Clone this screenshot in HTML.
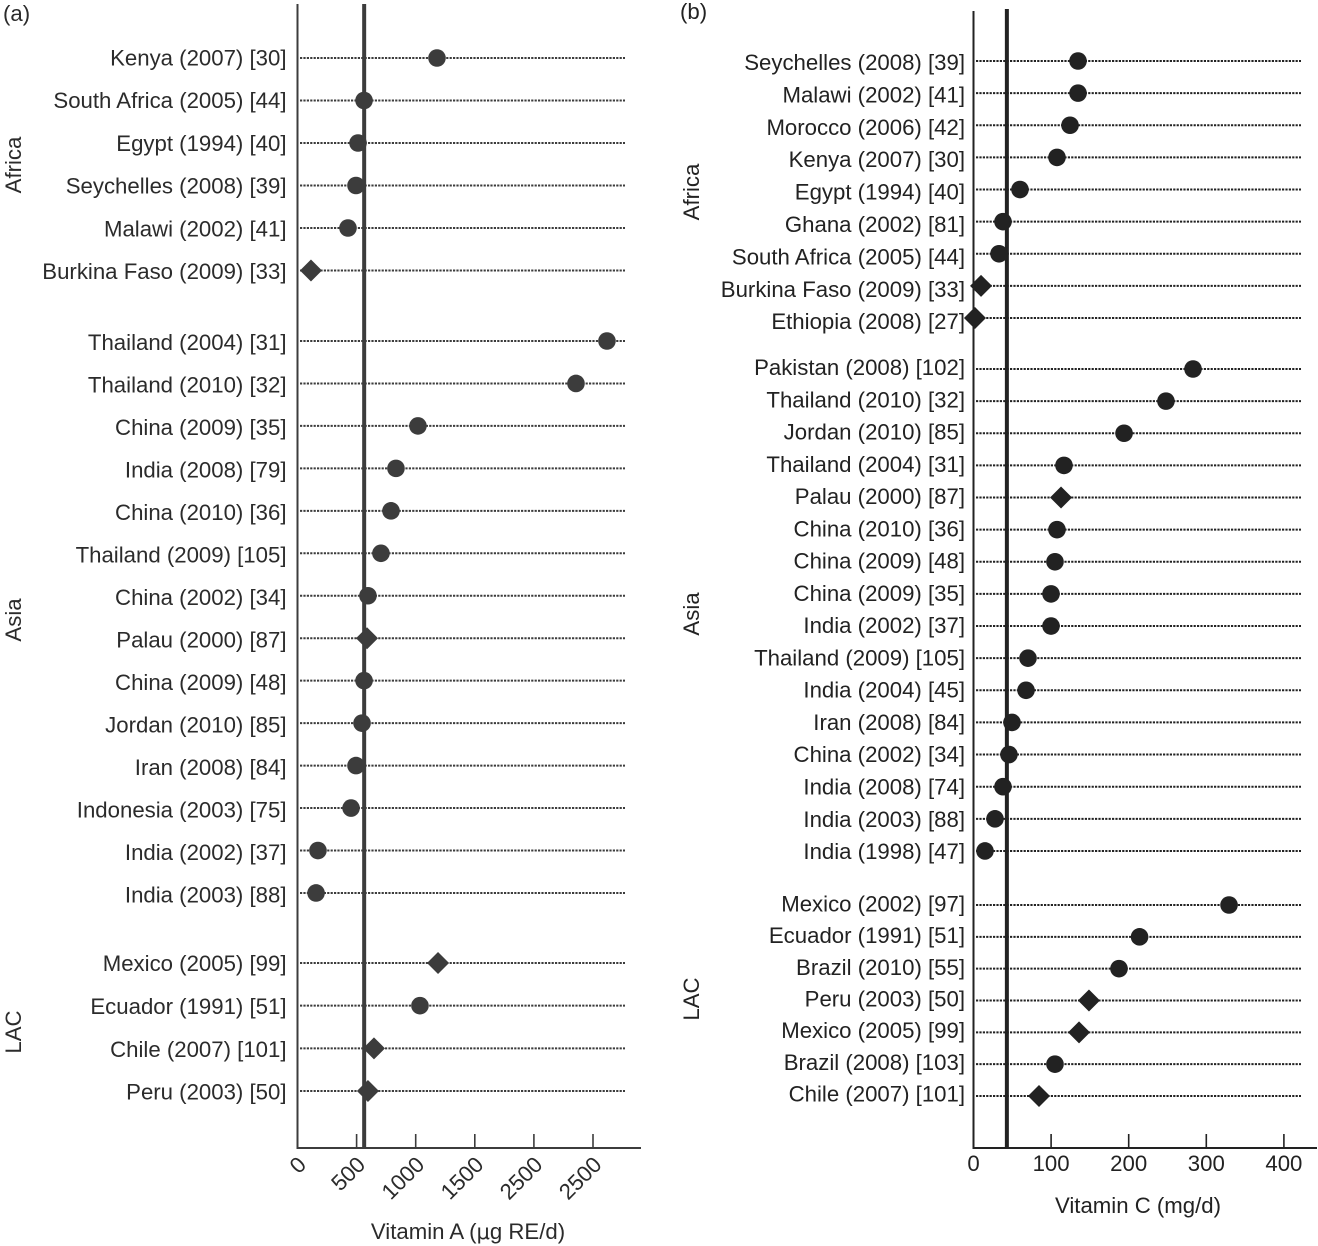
<!DOCTYPE html>
<html lang="en">
<head>
<meta charset="utf-8">
<title>Vitamin A and Vitamin C intake dot plots</title>
<style>
html,body{margin:0;padding:0;background:#fff;width:1318px;height:1246px;overflow:hidden}
svg{display:block}
text{font-family:"Liberation Sans",sans-serif;font-size:22.2px}
</style>
</head>
<body>
<svg id="figure" xmlns="http://www.w3.org/2000/svg" width="1318" height="1246" viewBox="0 0 1318 1246">
  <rect x="0" y="0" width="1318" height="1246" fill="#fff"/>
  <text x="3" y="21" fill="#2b2b2b">(a)</text>
  <text x="680" y="19" fill="#222">(b)</text>
  <text x="468" y="1239" text-anchor="middle" fill="#2b2b2b">Vitamin A (<tspan font-family="'DejaVu Sans',sans-serif" font-size="21">μ</tspan>g RE/d)</text>
  <text x="1138" y="1213" text-anchor="middle" fill="#222">Vitamin C (mg/d)</text>
</svg>
<script>
const groupNames = ['Africa', 'Asia', 'LAC'];

const panelACategories = [
  ['Kenya (2007) [30]', 'South Africa (2005) [44]', 'Egypt (1994) [40]', 'Seychelles (2008) [39]', 'Malawi (2002) [41]', 'Burkina Faso (2009) [33]'],
  ['Thailand (2004) [31]', 'Thailand (2010) [32]', 'China (2009) [35]', 'India (2008) [79]', 'China (2010) [36]', 'Thailand (2009) [105]', 'China (2002) [34]', 'Palau (2000) [87]', 'China (2009) [48]', 'Jordan (2010) [85]', 'Iran (2008) [84]', 'Indonesia (2003) [75]', 'India (2002) [37]', 'India (2003) [88]'],
  ['Mexico (2005) [99]', 'Ecuador (1991) [51]', 'Chile (2007) [101]', 'Peru (2003) [50]']
];
const panelAValues = [
  [1180, 563, 512, 495, 427, 114],
  [2618, 2356, 1019, 833, 791, 706, 596, 588, 563, 546, 495, 453, 173, 157],
  [1189, 1036, 647, 596]
];
const panelAMarkers = [
  ['o', 'o', 'o', 'o', 'o', 'd'],
  ['o', 'o', 'o', 'o', 'o', 'o', 'o', 'd', 'o', 'o', 'o', 'o', 'o', 'o'],
  ['d', 'o', 'd', 'd']
];
const panelATicks = [0, 500, 1000, 1500, 2000, 2500];
const panelATickLabels = ['0', '500', '1000', '1500', '2500', '2500'];
const panelAReference = 564;

const panelBCategories = [
  ['Seychelles (2008) [39]', 'Malawi (2002) [41]', 'Morocco (2006) [42]', 'Kenya (2007) [30]', 'Egypt (1994) [40]', 'Ghana (2002) [81]', 'South Africa (2005) [44]', 'Burkina Faso (2009) [33]', 'Ethiopia (2008) [27]'],
  ['Pakistan (2008) [102]', 'Thailand (2010) [32]', 'Jordan (2010) [85]', 'Thailand (2004) [31]', 'Palau (2000) [87]', 'China (2010) [36]', 'China (2009) [48]', 'China (2009) [35]', 'India (2002) [37]', 'Thailand (2009) [105]', 'India (2004) [45]', 'Iran (2008) [84]', 'China (2002) [34]', 'India (2008) [74]', 'India (2003) [88]', 'India (1998) [47]'],
  ['Mexico (2002) [97]', 'Ecuador (1991) [51]', 'Brazil (2010) [55]', 'Peru (2003) [50]', 'Mexico (2005) [99]', 'Brazil (2008) [103]', 'Chile (2007) [101]']
];
const panelBValues = [
  [134.7, 134.7, 124.4, 107.6, 59.9, 38, 32.9, 9.7, 1.9],
  [282.9, 248, 194, 116.6, 112.8, 107.6, 105, 99.9, 99.9, 70.2, 67.7, 49.6, 45.7, 38, 27.7, 14.8],
  [329.3, 214, 187.5, 148.8, 136, 105, 84.4]
];
const panelBMarkers = [
  ['o', 'o', 'o', 'o', 'o', 'o', 'o', 'd', 'd'],
  ['o', 'o', 'o', 'o', 'd', 'o', 'o', 'o', 'o', 'o', 'o', 'o', 'o', 'o', 'o', 'o'],
  ['o', 'o', 'o', 'd', 'd', 'o', 'd']
];
const panelBTicks = [0, 100, 200, 300, 400];
const panelBTickLabels = ['0', '100', '200', '300', '400'];
const panelBReference = 43;

const svg = document.getElementById('figure');
const NS = 'http://www.w3.org/2000/svg';

function make(tag, attrs, parent) {
  const el = document.createElementNS(NS, tag);
  for (const k in attrs) el.setAttribute(k, attrs[k]);
  (parent || svg).appendChild(el);
  return el;
}

function slug(s) {
  return s.toLowerCase().replace(/[^a-z0-9]+/g, '-').replace(/^-|-$/g, '');
}

function drawPanel(p) {
  const xScale = v => p.x0 + v * p.pxPerUnit;
  const g = make('g', {});
  
  

  // Dotted row lines, category labels and markers
  p.categories.forEach((cats, gi) => {
    const L = p.groupLayout[gi];
    const groupLabelY = L.groupLabelY;
    const gl = make('text', {
      x: 0, y: 0, 'text-anchor': 'middle', fill: p.textColor,
      transform: 'translate(' + p.groupLabelX + ',' + groupLabelY + ') rotate(-90)'
    }, g);
    
    
    gl.textContent = groupNames[gi];

    cats.forEach((cat, i) => {
      const y = L.lineStart + L.lineStep * i;
      const ly = L.labelStart + L.labelStep * i + 8;
      const line = make('line', {
        x1: p.dotStart, x2: p.dotEnd, y1: y, y2: y,
        stroke: p.color, 'stroke-width': 2, 'stroke-dasharray': '2.2 1.2'
      }, g);
      
      

      const label = make('text', { x: p.labelRight, y: ly, 'text-anchor': 'end', fill: p.textColor }, g);
      
      
      label.textContent = cat;
    });
  });

  // Reference line
  const ref = make('line', {
    x1: xScale(p.reference), x2: xScale(p.reference), y1: p.refTop, y2: p.baseline,
    stroke: p.color, 'stroke-width': 4
  }, g);
  
  

  // Axes
  const yAxis = make('line', {
    x1: p.x0, x2: p.x0, y1: p.axisTop, y2: p.baseline + 1,
    stroke: p.color, 'stroke-width': 2
  }, g);
  
  

  const xAxis = make('line', {
    x1: p.x0 - 1, x2: p.axisEnd, y1: p.baseline, y2: p.baseline,
    stroke: p.color, 'stroke-width': 2
  }, g);
  
  

  p.ticks.forEach((t, i) => {
    const x = xScale(t);
    if (t !== 0) {
      const tick = make('line', {
        x1: x, x2: x, y1: p.baseline - 14, y2: p.baseline,
        stroke: p.color, 'stroke-width': 1.6
      }, g);
      
      
    }
    const attrs = { fill: p.textColor };
    if (p.rotateTicks) {
      attrs['text-anchor'] = 'end';
      attrs.transform = 'translate(' + (x + 10) + ',' + (p.baseline + 18) + ') rotate(-45)';
    } else {
      attrs['text-anchor'] = 'middle';
      attrs.x = x;
      attrs.y = p.baseline + 23;
    }
    const tl = make('text', attrs, g);
    
    
    tl.textContent = p.tickLabels[i];
  });

  // Markers on top
  p.values.forEach((vals, gi) => {
    const L = p.groupLayout[gi];
    vals.forEach((v, i) => {
      const cx = xScale(v);
      const cy = L.lineStart + L.lineStep * i;
      let mark;
      if (p.markers[gi][i] === 'd') {
        const r = 11;
        mark = make('polygon', {
          points: [[cx - r, cy], [cx, cy - r], [cx + r, cy], [cx, cy + r]].map(a => a.join(',')).join(' '),
          fill: p.color
        }, g);
      } else {
        mark = make('circle', { cx: cx, cy: cy, r: 8.8, fill: p.color }, g);
      }
      
      
    });
  });
}

drawPanel({
  id: 'panel-a',
  categories: panelACategories, values: panelAValues, markers: panelAMarkers,
  ticks: panelATicks, tickLabels: panelATickLabels, reference: panelAReference,
  x0: 297.5, pxPerUnit: 59.1 / 500, baseline: 1148, axisTop: 4, refTop: 4, axisEnd: 641,
  dotStart: 300, dotEnd: 625, labelRight: 286.5, groupLabelX: 21, rotateTicks: true,
  color: '#3c3c3c', textColor: '#2b2b2b',
  groupLayout: [
    { lineStart: 58, lineStep: 42.5, labelStart: 57.5, labelStep: 42.7, groupLabelY: 165 },
    { lineStart: 341, lineStep: 42.46, labelStart: 342, labelStep: 42.5, groupLabelY: 620 },
    { lineStart: 963, lineStep: 42.67, labelStart: 963, labelStep: 42.9, groupLabelY: 1032 }
  ]
});

drawPanel({
  id: 'panel-b',
  categories: panelBCategories, values: panelBValues, markers: panelBMarkers,
  ticks: panelBTicks, tickLabels: panelBTickLabels, reference: panelBReference,
  x0: 973.5, pxPerUnit: 0.776, baseline: 1148, axisTop: 11, refTop: 9, axisEnd: 1317,
  dotStart: 976, dotEnd: 1301, labelRight: 965, groupLabelX: 699, rotateTicks: false,
  color: '#222222', textColor: '#222222',
  groupLayout: [
    { lineStart: 61, lineStep: 32.13, labelStart: 62, labelStep: 32.4, groupLabelY: 192 },
    { lineStart: 369, lineStep: 32.13, labelStart: 367, labelStep: 32.27, groupLabelY: 614 },
    { lineStart: 905, lineStep: 31.83, labelStart: 903.5, labelStep: 31.67, groupLabelY: 999 }
  ]
});
</script>
</body>
</html>
